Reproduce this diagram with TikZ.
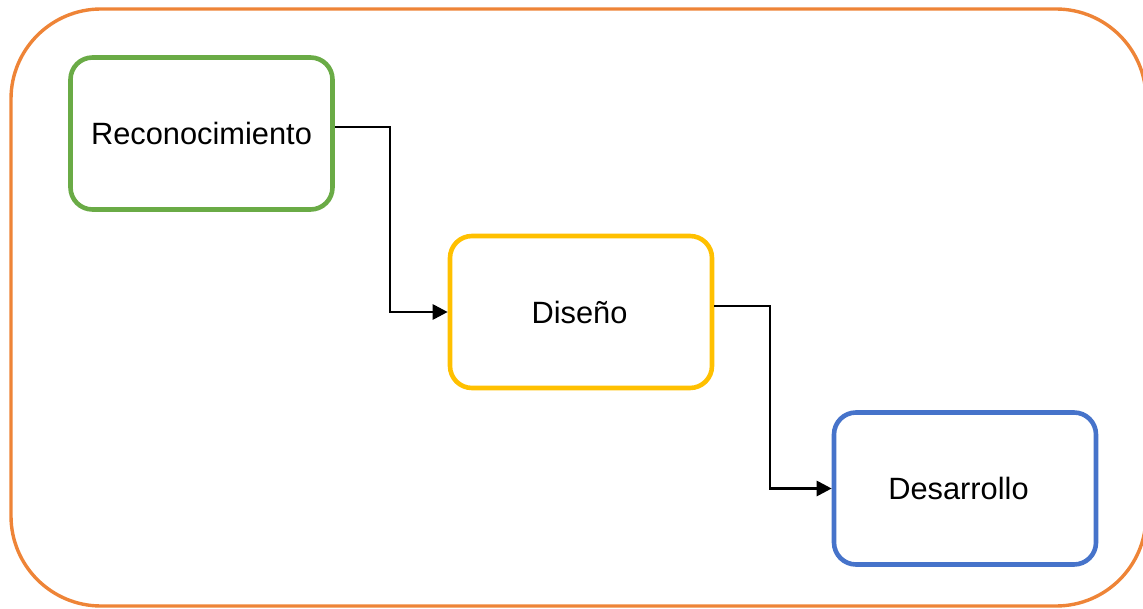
\documentclass[tikz,border=0pt]{standalone}
\usepackage{fontspec}
\setmainfont{Liberation Sans}
\usetikzlibrary{arrows.meta}
\definecolor{outerorange}{HTML}{EE8437}
\definecolor{boxgreen}{HTML}{6AAB46}
\definecolor{boxyellow}{HTML}{FFC000}
\definecolor{boxblue}{HTML}{4673CA}
\tikzset{
  stagebox/.style={draw, line width=4.6pt, rounded corners=22pt, minimum width=262pt, minimum height=152pt, inner sep=0pt, font=\fontsize{30.8pt}{36pt}\selectfont},
  flow/.style={draw=black, line width=2.8pt, -{Triangle[length=15pt,width=15pt]}}
}
\begin{document}
\begin{tikzpicture}[x=1pt,y=-1pt]
\useasboundingbox (0,0) rectangle (1143,609);
\begin{scope}
\clip (0,0) rectangle (1143,609);
\draw[outerorange, line width=3.4pt, rounded corners=90pt] (11,9) rectangle (1146,606);
\end{scope}
\node[stagebox, draw=boxgreen] (rec) at (201.5,133.5) {Reconocimiento};
\node[stagebox, draw=boxyellow] (dis) at (581,312) {Diseño\kern3pt};
\node[stagebox, draw=boxblue] (des) at (965,488.5) {Desarrollo\kern13pt};
\coordinate (b1) at (390,127);
\coordinate (b2) at (770,306);
\draw[flow] (rec.east |- b1) -| (b1 |- dis.west) -- (dis.west);
\draw[flow] (dis.east |- b2) -| (b2 |- des.west) -- (des.west);
\end{tikzpicture}
\end{document}
